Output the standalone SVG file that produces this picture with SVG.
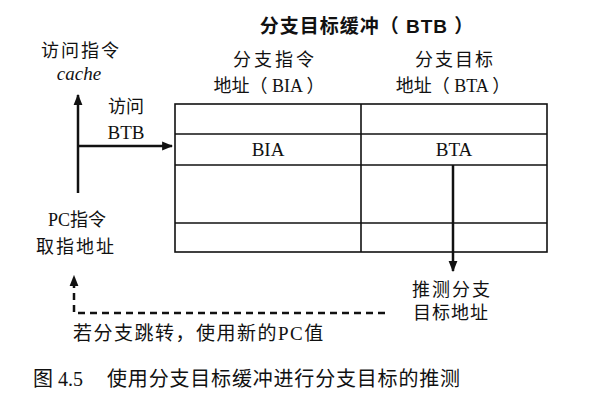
<svg xmlns="http://www.w3.org/2000/svg" width="608" height="408" viewBox="0 0 608 408">
<style>
.t{font-family:"Liberation Serif","Noto Sans CJK SC",serif;font-size:18px;fill:#111;text-anchor:middle}
.h{font-family:"Liberation Sans","Noto Sans CJK SC",sans-serif;font-size:19px;font-weight:bold;fill:#111;text-anchor:middle}
.grid{fill:none;stroke:#111;stroke-width:1.6}
.ar{fill:none;stroke:#111;stroke-width:2.5}
.da{fill:none;stroke:#111;stroke-width:2.5;stroke-dasharray:7 5}
</style>
<defs>
<marker id="ah" viewBox="0 0 10 10" refX="9" refY="5" markerWidth="4.4" markerHeight="4.4" orient="auto" markerUnits="strokeWidth">
<path d="M0,1 L10,5 L0,9 Z" fill="#111"/>
</marker>
</defs>
<rect width="608" height="408" fill="#fff"/>
<text class="h" x="367" y="33" style="letter-spacing:1px">分支目标缓冲（ BTB ）</text>
<g id="btb">
<rect class="grid" x="175" y="104" width="372" height="148"/>
<line class="grid" x1="175" y1="134" x2="547" y2="134"/>
<line class="grid" x1="175" y1="165" x2="547" y2="165"/>
<line class="grid" x1="175" y1="223" x2="547" y2="223"/>
<line class="grid" x1="361" y1="104" x2="361" y2="252"/>
<text class="t" x="275" y="66" style="letter-spacing:3px">分支指令</text>
<text class="t" x="269" y="92">地址（ BIA ）</text>
<text class="t" x="455" y="66" style="letter-spacing:2px">分支目标</text>
<text class="t" x="453" y="92">地址（ BTA ）</text>
<text class="t" x="268" y="156" style="font-size:19px">BIA</text>
<text class="t" x="454" y="156" style="font-size:19px">BTA</text>
</g>
<g id="cache">
<text class="t" x="81" y="57" style="letter-spacing:2px">访问指令</text>
<text class="t" x="79" y="80" style="font-style:italic;font-size:19px">cache</text>
</g>
<g id="access-btb">
<text class="t" x="126" y="113">访问</text>
<text class="t" x="126" y="139" style="font-size:19px">BTB</text>
</g>
<g id="pc">
<text class="t" x="77" y="226">PC指令</text>
<text class="t" x="76" y="253" style="letter-spacing:2px">取指地址</text>
</g>
<g id="predict">
<text class="t" x="452" y="296" style="letter-spacing:2px">推测分支</text>
<text class="t" x="451" y="319" style="letter-spacing:1px">目标地址</text>
</g>
<g id="connectors">
<line class="ar" x1="78" y1="193" x2="78" y2="95" marker-end="url(#ah)"/>
<line class="ar" x1="78" y1="146" x2="172" y2="146" marker-end="url(#ah)"/>
<line class="ar" x1="453" y1="165" x2="453" y2="271" marker-end="url(#ah)"/>
<polyline class="da" points="385,313 74,313 74,276" marker-end="url(#ah)"/>
</g>
<text class="t" x="73" y="340" style="text-anchor:start;font-size:19px;letter-spacing:1.5px">若分支跳转，使用新的PC值</text>
<text class="t" x="33" y="386" style="text-anchor:start;font-size:20px">图 4.5</text>
<text class="t" x="107" y="386" style="text-anchor:start;font-size:20px" textLength="353" lengthAdjust="spacing">使用分支目标缓冲进行分支目标的推测</text>
</svg>
